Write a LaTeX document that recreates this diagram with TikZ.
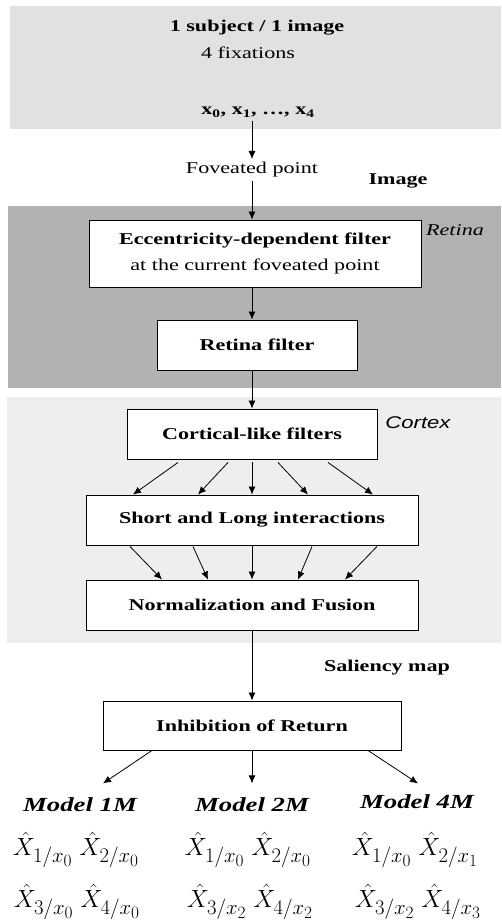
\documentclass[tikz,border=0pt]{standalone}
\usepackage{fontspec}
\setmainfont{Liberation Serif}[FakeStretch=1.34]
\newfontfamily\cortexfont{Liberation Sans}[FakeStretch=1.3]
\usetikzlibrary{positioning, arrows.meta, calc}
\definecolor{imagegray}{HTML}{E1E1E1}
\definecolor{retinagray}{HTML}{B2B2B2}
\definecolor{cortexgray}{HTML}{EEEEEE}
\newcommand{\basesize}{\fontsize{16.5}{20}\selectfont}
\tikzset{
    box/.style={draw, fill=white, line width=0.9pt, inner sep=2pt, font=\basesize\bfseries},
    bold/.style={font=\basesize\bfseries},
    model/.style={font=\fontsize{20}{24}\selectfont\bfseries\itshape},
    hats/.style={inner sep=0pt, font=\fontsize{24.88}{30}\selectfont},
    arr/.style={-{Latex[length=8pt,width=7pt]}, line width=0.8pt}
}

\begin{document}
\begin{tikzpicture}[x=1pt, y=-1pt, font=\basesize]
            \useasboundingbox (0,0) rectangle (501,924);
            % panels
            \fill[imagegray] (10,6) rectangle (501,129);
            \fill[retinagray] (8,206) rectangle (501,388);
            \fill[cortexgray] (7,397) rectangle (501,643);

            \node[bold] (subj) at (257,28) {1 subject / 1 image};
            \node (fix) at (248,53) {4 fixations};
            \node[bold] (xs) at (258,112) {x\textsubscript{0}, x\textsubscript{1}, \ldots, x\textsubscript{4}};
            \node (fov) at (252,170) {Foveated point};
            \node[bold] (img) at (398,181) {Image};

            \node[box, minimum width=332pt, minimum height=67pt, align=center] (ecc) at (255,253.5)
                {Eccentricity-dependent filter\\[6pt]{\mdseries at the current foveated point}};
            \node[font=\basesize\itshape] (ret) at (455,230) {Retina};
            \node[box, minimum width=200pt, minimum height=50pt] (retf) at (257,345) {Retina filter};

            \node[box, minimum width=250pt, minimum height=50pt] (cort) at (252,434) {Cortical-like filters};
            \node[font=\fontsize{17}{20}\selectfont\cortexfont\itshape] (ctx) at (418,423) {Cortex};
            \node[box, minimum width=332pt, minimum height=50pt] (inter) at (252,520) {Short and Long interactions};
            \node[box, minimum width=332pt, minimum height=50pt] (norm) at (252,605) {Normalization and Fusion};

            \node[bold] (sal) at (387,668) {Saliency map};
            \node[box, minimum width=298pt, minimum height=49pt] (inhib) at (252,725.5) {Inhibition of Return};

            \node[model] (m1) at (80,805) {Model 1M};
            \node[model] (m2) at (252,805) {Model 2M};
            \node[model] (m4) at (417,802) {Model 4M};

            \node[hats] (h1a) at (76,850) {$\hat{X}_{1/x_0}\;\hat{X}_{2/x_0}$};
            \node[hats] (h1b) at (77,902) {$\hat{X}_{3/x_0}\;\hat{X}_{4/x_0}$};
            \node[hats] (h2a) at (248,850) {$\hat{X}_{1/x_0}\;\hat{X}_{2/x_0}$};
            \node[hats] (h2b) at (250,902) {$\hat{X}_{3/x_2}\;\hat{X}_{4/x_2}$};
            \node[hats] (h4a) at (415,850) {$\hat{X}_{1/x_0}\;\hat{X}_{2/x_1}$};
            \node[hats] (h4b) at (418,902) {$\hat{X}_{3/x_2}\;\hat{X}_{4/x_3}$};

            \draw[arr] (xs.south -| fov.north) -- (fov.north);
            \draw[arr] (fov) -- (fov |- ecc.north);
            \draw[arr] (ecc.south -| fov) -- (retf.north -| fov);
            \draw[arr] (retf.south -| fov) -- (cort.north);
            \foreach \a/\b in {-74/-119, -24/-54, 0/0, 26/56, 76/121}
                \draw[arr] ([xshift=\a pt, yshift=-3pt]cort.south) -- ([xshift=\b pt]inter.north);
            \foreach \a/\b in {-122/-90, -59/-44, 0/0, 60/46, 125/93}
                \draw[arr] ([xshift=\a pt, yshift=-1pt]inter.south) -- ([xshift=\b pt]norm.north);
            \draw[arr] (norm) -- (inhib);
            \draw[arr] ([xshift=-100pt]inhib.south) -- ([xshift=23pt, yshift=11pt]m1.north);
            \draw[arr] (inhib) -- ([yshift=11pt]m2.north);
            \draw[arr] ([xshift=116pt]inhib.south) -- ([xshift=1pt, yshift=8pt]m4.north);
        \end{tikzpicture}
\end{document}
